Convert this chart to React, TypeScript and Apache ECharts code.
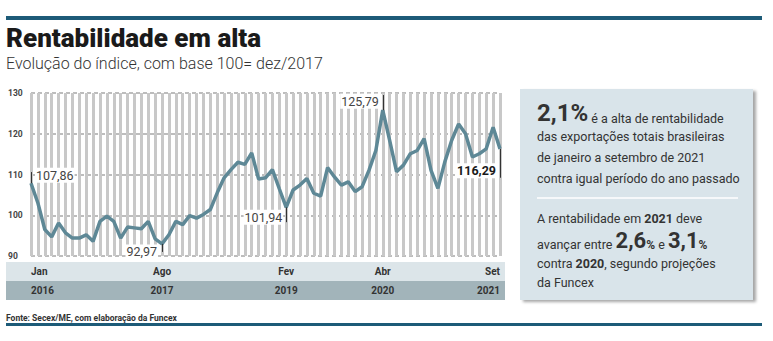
import React, { useEffect, useRef } from 'react';
import * as echarts from 'echarts';

const months = ['Jan', 'Fev', 'Mar', 'Abr', 'Mai', 'Jun', 'Jul', 'Ago', 'Set', 'Out', 'Nov', 'Dez'];
const years = [2016, 2017, 2018, 2019, 2020, 2021];
const lastMonthIndex2021 = 8; // Set

const values = [
  107.86, 103.0, 96.5, 94.7, 98.1, 95.7, 94.4, 94.4, 95.2, 93.6, 98.5, 99.8,
  98.5, 94.4, 97.1, 96.9, 96.7, 98.5, 94.2, 92.97, 95.2, 98.5, 97.7, 99.9,
  99.3, 100.2, 101.4, 105.5, 109.2, 111.2, 113.0, 112.5, 115.3, 108.9, 109.2, 111.2,
  106.5, 101.94, 106.2, 107.4, 109.0, 105.4, 104.7, 111.7, 109.4, 107.4, 108.2, 105.8,
  107.0, 111.0, 115.9, 125.79, 118.4, 110.7, 112.3, 115.1, 115.9, 118.8, 111.0, 106.6,
  113.1, 118.4, 122.4, 120.0, 114.3, 115.1, 116.3, 121.6, 116.29,
];

const yMin = 90;
const yMax = 130;
const yStep = 10;

const labeledIdx = [0, 19, 37, 51, 68];
const annotationTexts = ['107,86', '92,97', '101,94', '125,79', '116,29'];
const tickEnds = [110.6, 91.0, 98.3, 129.5, 109.2];

const categories: string[] = [];
years.forEach((y, yi) => {
  months.forEach((m, mi) => {
    if (yi === years.length - 1 && mi > lastMonthIndex2021) return;
    categories.push(m + '|' + y);
  });
});

const FONT = 'Roboto, "Noto Sans", sans-serif';

export default function App() {
  const ref = useRef<HTMLDivElement>(null);
  useEffect(() => {
    document.body.style.margin = '0';
    const chart = echarts.init(ref.current!, null, { renderer: 'svg' });

    const labelStyles: any[] = [
      { position: [4, -8], align: 'left' },
      { position: [-4, 8], align: 'right' },
      { position: [-3, 10], align: 'right' },
      { position: [-3, -9], align: 'right' },
      { position: [-3, 22], align: 'right', bold: true },
    ];

    const seriesData = values.map((v, i) => {
      const k = labeledIdx.indexOf(i);
      if (k < 0) return v;
      const ls = labelStyles[k];
      return {
        value: v,
        label: {
          show: true,
          formatter: annotationTexts[k],
          position: ls.position,
          align: ls.align,
          verticalAlign: 'middle',
          fontFamily: FONT,
          fontSize: 12.5,
          fontWeight: ls.bold ? 'bold' : 'normal',
          color: ls.bold ? '#1a1a1a' : '#444',
          backgroundColor: '#fff',
          padding: [1, 1],
        },
      };
    });

    const markLineData = labeledIdx.map((idx, k) => [
      { coord: [idx, values[idx]] },
      { coord: [idx, tickEnds[k]] },
    ]);

    const boxTexts = [
      { y: 113, text: '{b|2,1%}{n| é a alta de rentabilidade}' },
      { y: 135, text: '{n|das exportações totais brasileiras}' },
      { y: 156, text: '{n|de janeiro a setembro de 2021}' },
      { y: 177, text: '{n|contra igual período do ano passado}' },
      { y: 217, text: '{n|A rentabilidade em }{nb|2021}{n| deve}' },
      { y: 241, text: '{n|avançar entre }{b2|2,6}{pb|%}{n| e }{b2|3,1}{pb|%}' },
      { y: 262, text: '{n|contra }{nb|2020}{n|, segundo projeções}' },
      { y: 281, text: '{n|da Funcex}' },
    ];
    const rich = {
      b: { fontFamily: FONT, fontSize: 24, fontWeight: 'bold', color: '#222', lineHeight: 24, verticalAlign: 'bottom' },
      b2: { fontFamily: FONT, fontSize: 22, fontWeight: 'bold', color: '#222', lineHeight: 20, verticalAlign: 'bottom' },
      pb: { fontFamily: FONT, fontSize: 12, fontWeight: 'bold', color: '#222', lineHeight: 15, verticalAlign: 'bottom' },
      n: { fontFamily: FONT, fontSize: 12.5, color: '#333', lineHeight: 16, verticalAlign: 'bottom' },
      nb: { fontFamily: FONT, fontSize: 12.5, fontWeight: 'bold', color: '#222', lineHeight: 16, verticalAlign: 'bottom' },
    };

    const option: any = {
      animation: false,
      grid: { left: 31, right: 273, top: 93, bottom: 85, containLabel: false },
      xAxis: {
        type: 'category',
        data: categories,
        boundaryGap: false,
        axisLine: { show: false },
        axisTick: { show: false },
        splitLine: { show: true, interval: 0, lineStyle: { color: '#c8c8c8', width: 3 } },
        axisLabel: {
          interval: (idx: number) => labeledIdx.indexOf(idx) >= 0,
          alignMinLabel: 'left',
          alignMaxLabel: 'right',
          margin: 6,
          formatter: (val: string) => {
            const [m, y] = val.split('|');
            return '{m|' + m + '}\n{y|' + y + '}';
          },
          rich: {
            m: { fontFamily: FONT, fontSize: 10, fontWeight: 'bold', color: '#333', lineHeight: 19 },
            y: { fontFamily: FONT, fontSize: 10, fontWeight: 'bold', color: '#333', lineHeight: 19 },
          },
        },
      },
      yAxis: {
        type: 'value',
        min: yMin,
        max: yMax,
        interval: yStep,
        axisLine: { show: false },
        axisTick: { show: false },
        axisLabel: { align: 'left', margin: 23, fontFamily: FONT, fontSize: 8.5, fontWeight: 'bold', color: '#444' },
        splitLine: { show: true, lineStyle: { color: '#a8a8a8', width: 1.5, type: [4, 3] } },
      },
      series: [
        {
          type: 'line',
          data: seriesData,
          symbol: 'circle',
          symbolSize: 0,
          showSymbol: true,
          lineStyle: { color: '#5e8896', width: 3.5 },
          itemStyle: { color: '#5e8896' },
          z: 3,
          markLine: {
            silent: true,
            symbol: ['none', 'none'],
            label: { show: false },
            lineStyle: { color: '#333', width: 1, type: 'solid' },
            emphasis: { disabled: true },
            data: markLineData,
          },
        },
      ],
      graphic: [
        { type: 'rect', shape: { x: 6, y: 16, width: 756, height: 4 }, style: { fill: '#1d5b78' }, silent: true },
        { type: 'rect', shape: { x: 6, y: 323, width: 756, height: 3 }, style: { fill: '#1d5b78' }, silent: true },
        { type: 'text', x: 6, y: 51, style: { text: 'Rentabilidade em alta', fontFamily: FONT, fontSize: 26, fontWeight: 900, fill: '#1a1a1a', verticalAlign: 'bottom' } },
        { type: 'text', x: 6, y: 63, style: { text: 'Evolução do índice, com base 100= dez/2017', fontFamily: FONT, fontSize: 16, fontWeight: 300, fill: '#333', verticalAlign: 'middle' } },
        { type: 'rect', z: -10, shape: { x: 6, y: 262, width: 499, height: 19 }, style: { fill: '#dce5e9' }, silent: true },
        { type: 'rect', z: -10, shape: { x: 6, y: 281, width: 499, height: 19 }, style: { fill: '#a2b4ba' }, silent: true },
        { type: 'text', x: 6, y: 318, style: { text: 'Fonte: Secex/ME, com elaboração da Funcex', fontFamily: FONT, fontSize: 8.5, fontWeight: 'bold', fill: '#333', verticalAlign: 'middle' } },
        {
          type: 'rect', shape: { x: 520, y: 89, width: 233, height: 211 },
          style: { fill: '#d9e4ea', shadowColor: 'rgba(0,0,0,0.35)', shadowBlur: 3, shadowOffsetX: 3, shadowOffsetY: 2 }, silent: true,
        },
        { type: 'line', shape: { x1: 537, y1: 198, x2: 738, y2: 198 }, style: { stroke: '#ffffff', lineWidth: 1.5 }, silent: true },
        ...boxTexts.map((t) => ({
          type: 'text', x: 537, y: t.y,
          style: { text: t.text, rich, verticalAlign: 'middle', fill: '#333' },
        })),
      ],
    };
    chart.setOption(option);
    return () => chart.dispose();
  }, []);
  return <div ref={ref} style={{ width: 773, height: 341 }} />;
}
